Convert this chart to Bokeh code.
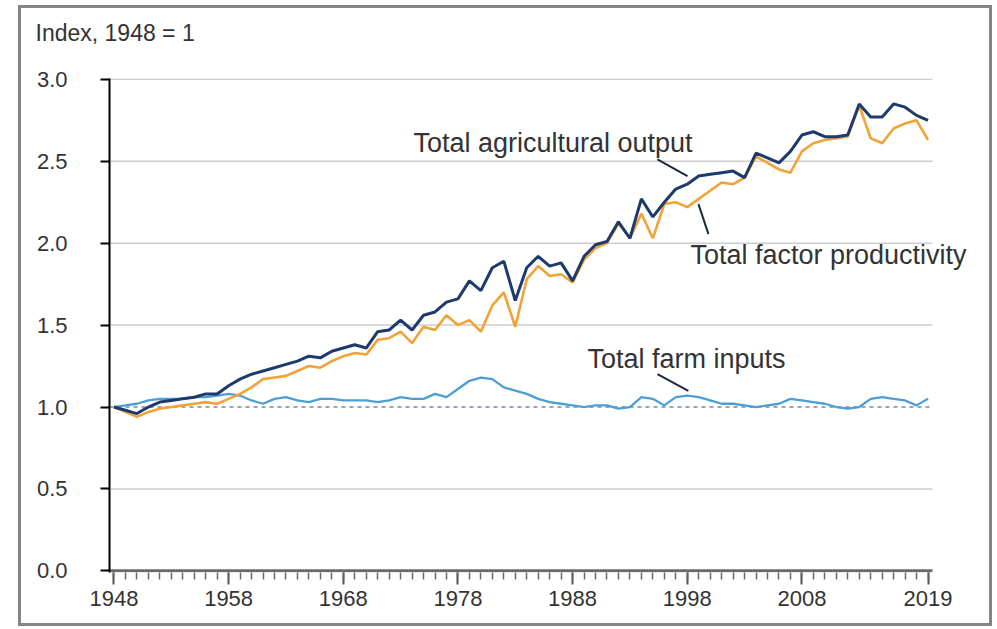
from bokeh.plotting import figure
from bokeh.models import FixedTicker, Label, Range1d, Spacer, Title
from bokeh.layouts import row, column
from bokeh.embed import file_html
from bokeh.resources import INLINE

# ---- data ----
years = list(range(1948, 2020))
output = [1.00, 0.98, 0.96, 1.00, 1.03, 1.04, 1.05, 1.06, 1.08, 1.08,
          1.13, 1.17, 1.20, 1.22, 1.24, 1.26, 1.28, 1.31, 1.30, 1.34,
          1.36, 1.38, 1.36, 1.46, 1.47, 1.53, 1.47, 1.56, 1.58, 1.64,
          1.66, 1.77, 1.71, 1.85, 1.89, 1.65, 1.85, 1.92, 1.86, 1.88,
          1.77, 1.92, 1.99, 2.01, 2.13, 2.03, 2.27, 2.16, 2.25, 2.33,
          2.36, 2.41, 2.42, 2.43, 2.44, 2.40, 2.55, 2.52, 2.49, 2.56,
          2.66, 2.68, 2.65, 2.65, 2.66, 2.85, 2.77, 2.77, 2.85, 2.83,
          2.78, 2.75]
tfp = [1.00, 0.97, 0.94, 0.97, 0.99, 1.00, 1.01, 1.02, 1.03, 1.02,
       1.05, 1.08, 1.12, 1.17, 1.18, 1.19, 1.22, 1.25, 1.24, 1.28,
       1.31, 1.33, 1.32, 1.41, 1.42, 1.46, 1.39, 1.49, 1.47, 1.56,
       1.50, 1.53, 1.46, 1.62, 1.70, 1.49, 1.78, 1.86, 1.80, 1.81,
       1.76, 1.90, 1.97, 2.00, 2.12, 2.03, 2.18, 2.03, 2.24, 2.25,
       2.22, 2.27, 2.32, 2.37, 2.36, 2.40, 2.53, 2.49, 2.45, 2.43,
       2.56, 2.61, 2.63, 2.64, 2.65, 2.84, 2.64, 2.61, 2.70, 2.73,
       2.75, 2.63]
inputs = [1.00, 1.01, 1.02, 1.04, 1.05, 1.05, 1.05, 1.06, 1.06, 1.07,
          1.08, 1.07, 1.04, 1.02, 1.05, 1.06, 1.04, 1.03, 1.05, 1.05,
          1.04, 1.04, 1.04, 1.03, 1.04, 1.06, 1.05, 1.05, 1.08, 1.06,
          1.11, 1.16, 1.18, 1.17, 1.12, 1.10, 1.08, 1.05, 1.03, 1.02,
          1.01, 1.00, 1.01, 1.01, 0.99, 1.00, 1.06, 1.05, 1.01, 1.06,
          1.07, 1.06, 1.04, 1.02, 1.02, 1.01, 1.00, 1.01, 1.02, 1.05,
          1.04, 1.03, 1.02, 1.00, 0.99, 1.00, 1.05, 1.06, 1.05, 1.04,
          1.01, 1.05]

x_ticks = [1948, 1958, 1968, 1978, 1988, 1998, 2008, 2019]
x_tick_labels = ["1948", "1958", "1968", "1978", "1988", "1998", "2008", "2019"]
y_ticks = [0.0, 0.5, 1.0, 1.5, 2.0, 2.5, 3.0]
y_tick_labels = ["0.0", "0.5", "1.0", "1.5", "2.0", "2.5", "3.0"]
grid_values = [0.5, 1.5, 2.0, 2.5, 3.0]
baseline_value = 1.0
axis_value = 0.0

series_names = ["Total agricultural output", "Total factor productivity", "Total farm inputs"]
unit_label = "Index, 1948 = 1"
# annotation anchors (year, value) and leader lines
label_pos = [(1974.12, 2.610), (1998.28, 1.930), (1989.30, 1.292)]
leaders_x0 = [1995.40, 1998.98, 1995.40]
leaders_y0 = [2.512, 2.238, 1.201]
leaders_x1 = [1998.02, 1999.85, 1998.10]
leaders_y1 = [2.409, 2.055, 1.098]

X_START, X_END, GRID_END = 1947.61, 2022.88, 2019.39

NAVY = "#1c3b6c"
ORANGE = "#f2a236"
LIGHT = "#4a9fd6"
TEXT = "#333333"
FONT = "Liberation Sans"

p = figure(width=968, height=615,
           x_range=Range1d(X_START, X_END), y_range=Range1d(-0.01, 3.005),
           output_backend="svg", toolbar_location=None,
           min_border_left=88, min_border_right=17,
           min_border_top=70, min_border_bottom=51)
p.outline_line_color = None
p.background_fill_color = "white"
p.border_fill_color = "white"

# invisible spacer panel between the frame and the unit label
p.add_layout(Title(text=" ", text_font_size="2px", standoff=26), "above")

# title used as the unit label (outermost panel)
p.title.text = unit_label
p.title.align = "left"
p.title.offset = -74
p.title.standoff = 6
p.title.text_font = FONT
p.title.text_font_size = "23px"
p.title.text_font_style = "normal"
p.title.text_color = TEXT

p.xgrid.visible = False
p.ygrid.visible = False
# horizontal grid lines ending at the last year
p.segment(x0=[X_START] * len(grid_values), y0=grid_values,
          x1=[GRID_END] * len(grid_values), y1=grid_values,
          line_color="#cdcdcd", line_width=1.5)

# y axis
p.yaxis.ticker = FixedTicker(ticks=y_ticks)
p.yaxis.major_label_overrides = {v: s for v, s in zip(y_ticks, y_tick_labels)}
p.yaxis.axis_line_color = "black"
p.yaxis.axis_line_width = 2
p.yaxis.major_tick_line_color = "black"
p.yaxis.major_tick_line_width = 2
p.yaxis.major_tick_out = 9
p.yaxis.major_tick_in = 0
p.yaxis.minor_tick_line_color = None
p.yaxis.major_label_standoff = 33
p.yaxis.major_label_text_font = FONT
p.yaxis.major_label_text_font_size = "22px"
p.yaxis.major_label_text_color = TEXT

# x axis (line drawn separately so it stops at the last year)
p.xaxis.ticker = FixedTicker(ticks=x_ticks, minor_ticks=years)
p.xaxis.major_label_overrides = {v: s for v, s in zip(x_ticks, x_tick_labels)}
p.xaxis.axis_line_color = None
p.xaxis.major_tick_line_color = "#555555"
p.xaxis.major_tick_line_width = 2
p.xaxis.major_tick_out = 12
p.xaxis.major_tick_in = 0
p.xaxis.minor_tick_line_color = "#666666"
p.xaxis.minor_tick_line_width = 1.5
p.xaxis.minor_tick_out = 7
p.xaxis.minor_tick_in = 0
p.xaxis.major_label_standoff = 6
p.xaxis.major_label_text_font = FONT
p.xaxis.major_label_text_font_size = "22px"
p.xaxis.major_label_text_color = TEXT
p.segment(x0=[X_START], y0=[axis_value], x1=[GRID_END], y1=[axis_value],
          line_color="#6a6a6a", line_width=3)

# baseline dashed line
p.segment(x0=[X_START], y0=[baseline_value], x1=[GRID_END], y1=[baseline_value],
          line_color="#7d8796", line_width=1.5, line_dash="4 4")

# series
p.line(years, inputs, line_color=LIGHT, line_width=2.3)
p.line(years, tfp, line_color=ORANGE, line_width=2.6)
p.line(years, output, line_color=NAVY, line_width=3)

# leader lines
p.segment(x0=leaders_x0, y0=leaders_y0, x1=leaders_x1, y1=leaders_y1,
          line_color="#1a2a40", line_width=2)

for name, (lx, ly) in zip(series_names, label_pos):
    p.add_layout(Label(x=lx, y=ly, text=name, text_font=FONT, text_font_size="27px",
                       text_color=TEXT, text_align="left", text_baseline="alphabetic"))

framed = row(p, styles={"border": "3px solid #858585"})
layout = column(Spacer(width=10, height=5), row(Spacer(width=18, height=621), framed))
open("out.html", "w").write(file_html(layout, INLINE))
